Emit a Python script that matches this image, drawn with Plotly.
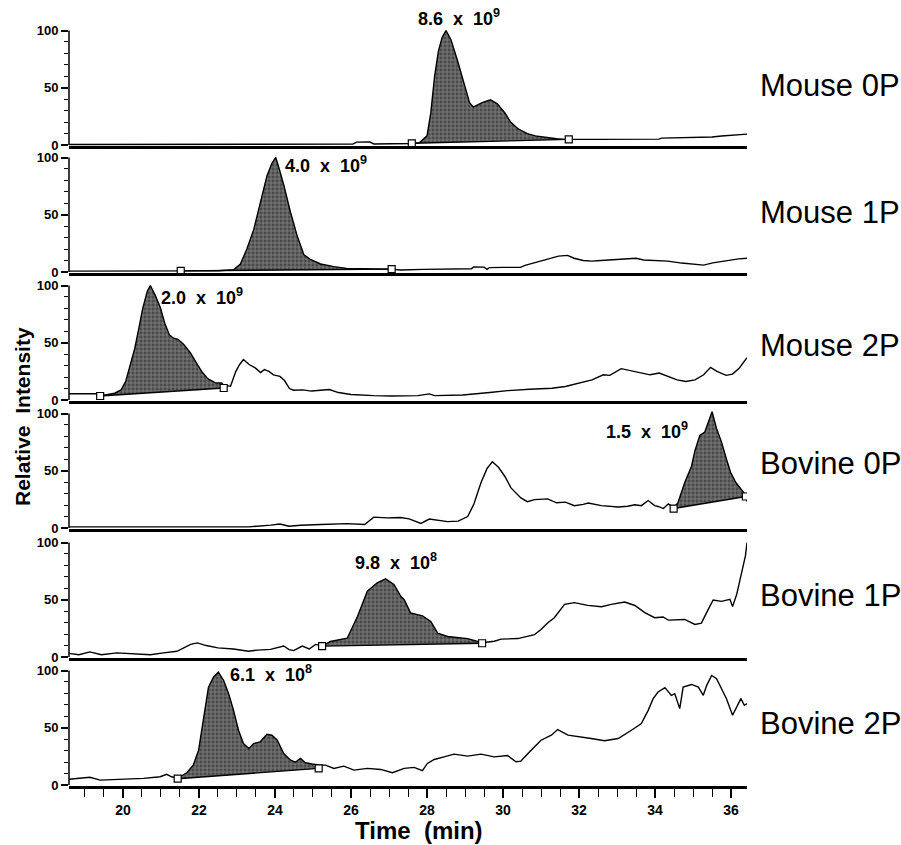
import plotly.graph_objects as go

# ---------------- data ----------------
panel_names = ["Mouse 0P", "Mouse 1P", "Mouse 2P", "Bovine 0P", "Bovine 1P", "Bovine 2P"]
peak_labels = ["8.6  x  10<sup>9</sup>", "4.0  x  10<sup>9</sup>", "2.0  x  10<sup>9</sup>",
               "1.5  x  10<sup>9</sup>", "9.8  x  10<sup>8</sup>", "6.1  x  10<sup>8</sup>"]
x_ticks = [20, 22, 24, 26, 28, 30, 32, 34, 36]
y_ticks = [0, 50, 100]

t_mouse0 = [18.58, 19.5, 20.5, 21.5, 22.5, 23.5, 24.5, 25.5, 26.05, 26.15, 26.3, 26.5, 26.6, 27.0, 27.4, 27.6,
            27.8, 28.0, 28.1, 28.2, 28.3, 28.4, 28.5, 28.63, 28.8, 29.0, 29.12, 29.22, 29.45, 29.67, 29.85,
            30.05, 30.2, 30.4, 30.64, 30.85, 31.2, 31.41, 31.64, 31.73, 31.88, 32.5, 33.2, 34.1, 34.17, 34.8,
            35.16, 35.5, 35.75, 35.99, 36.2, 36.42]
i_mouse0 = [0.5, 0.5, 0.6, 0.5, 0.6, 0.5, 0.6, 0.7, 0.8, 2.5, 2.8, 2.6, 0.9, 1.0, 1.2, 1.3,
            2.0, 8, 28, 60, 82, 94, 100, 92, 74, 50, 37, 33, 37, 39.5, 36,
            28, 20, 14, 10, 8, 6.3, 5.5, 4.9, 5.0, 4.9, 4.9, 5.0, 5.1, 6.0, 6.2,
            6.3, 7.0, 7.8, 8.4, 8.8, 9.5]

t_mouse1 = [18.58, 19.5, 20.5, 21.3, 21.52, 22.0, 22.5, 22.91, 23.09, 23.26, 23.44, 23.61, 23.79, 23.92, 24.02,
            24.13, 24.23, 24.41, 24.58, 24.76, 24.93, 25.2, 25.55, 25.89, 26.13, 26.6, 27.07, 27.3, 27.9,
            28.5, 29.17, 29.23, 29.5, 29.58, 29.64, 30.0, 30.46, 30.58, 30.81, 31.05, 31.28, 31.46, 31.7,
            31.87, 32.11, 32.34, 32.58, 32.93, 33.28, 33.5, 33.7, 33.99, 34.34, 34.7, 35.05, 35.28, 35.52,
            35.75, 35.99, 36.2, 36.42]
i_mouse1 = [0.8, 0.7, 0.8, 0.9, 1.0, 1.0, 1.1, 2.0, 7, 20, 37, 60, 84, 95, 100,
            88, 76, 52, 32, 15, 11, 7, 4.7, 3.2, 2.9, 2.6, 2.5, 1.8, 2.3,
            2.5, 2.9, 4.4, 4.3, 2.3, 3.8, 4.0, 4.0, 5.8, 7.9, 10.2, 12.5, 13.9, 14.5,
            12, 10, 9.5, 10, 10.8, 11.5, 12, 10.5, 10, 9.5, 7.8, 7, 6, 8,
            9.3, 10.8, 11.5, 12]

t_mouse2 = [18.58, 19.0, 19.3, 19.43, 19.54, 19.78, 19.95, 20.07, 20.2, 20.31, 20.42, 20.52, 20.64, 20.72,
            20.84, 20.98, 21.1, 21.22, 21.33, 21.45, 21.6, 21.78, 21.92, 22.07, 22.22, 22.43, 22.6, 22.65,
            22.83, 22.97, 23.07, 23.17, 23.32, 23.48, 23.62, 23.72, 23.84, 23.96, 24.13, 24.25, 24.38,
            24.49, 24.73, 24.96, 25.2, 25.43, 25.67, 26.0, 26.6, 27.06, 27.76, 28.06, 28.2, 28.94, 29.65,
            30.12, 30.7, 31.29, 31.64, 31.99, 32.34, 32.64, 32.81, 33.11, 33.34, 33.64, 33.87, 34.11,
            34.34, 34.58, 34.81, 35.05, 35.28, 35.46, 35.63, 35.87, 36.04, 36.22, 36.42]
i_mouse2 = [5.5, 5.5, 5.4, 4.5, 4.4, 5.9, 8.8, 16, 32, 45, 63, 80, 95, 100,
            92, 81, 67, 57, 54, 53, 48.5, 41, 33, 25, 19, 15, 14.8, 13,
            12, 25, 31, 35.3, 31, 28, 24, 26.5, 25, 22, 20.6, 17, 10,
            8.5, 8.8, 7.8, 8.5, 9.2, 6.5, 4.8, 3.8, 3.5, 3.8, 5.3, 3.8, 4.4, 6.5,
            8.2, 9.4, 10.3, 11.8, 14.7, 17.6, 22, 21.5, 27.4, 25.6, 23.5, 22, 23.5,
            20.6, 17.6, 16.2, 17.6, 22, 28.5, 25, 21.5, 22.6, 28, 37]

t_bovine0 = [18.58, 19.5, 20.5, 21.5, 22.5, 23.07, 23.3, 23.89, 24.13, 24.37, 24.67, 25.2, 25.9, 26.36,
             26.6, 26.95, 27.3, 27.53, 27.7, 27.84, 28.06, 28.23, 28.54, 28.82, 29.07, 29.23, 29.42,
             29.58, 29.72, 29.88, 30.05, 30.21, 30.47, 30.64, 30.83, 31.17, 31.41, 31.64, 31.88, 32.11,
             32.24, 32.59, 33.03, 33.28, 33.47, 33.64, 33.82, 33.99, 34.08, 34.22, 34.35, 34.49, 34.6,
             34.78, 34.96, 35.05, 35.18, 35.31, 35.4, 35.5, 35.62, 35.75, 35.88, 35.99, 36.13, 36.32,
             36.39, 36.42]
i_bovine0 = [1, 1, 1.2, 1, 1.2, 1.5, 1, 2.5, 3.5, 1.5, 2.4, 3, 3.8, 3,
             9.5, 8.8, 9.2, 8, 5.9, 4, 7.8, 6.8, 5.6, 6, 10, 20.6, 39.5,
             52, 57.8, 53, 45, 35, 26.3, 23, 24.8, 25.4, 22, 22.6, 19.5, 20.6,
             21.8, 19.5, 18.3, 19, 20.3, 19.5, 24, 19.5, 18.8, 17, 21, 18, 21.8,
             39.5, 54, 67.5, 80.8, 83.8, 92.6, 101.5, 86.7, 75, 60, 48.4, 39.5, 32,
             28.6, 23]

t_bovine1 = [18.58, 18.84, 19.13, 19.43, 19.84, 20.37, 20.72, 21.07, 21.42, 21.78, 21.96, 22.19, 22.5,
             22.91, 23.3, 23.54, 23.88, 24.23, 24.37, 24.49, 24.72, 24.9, 25.07, 25.24, 25.46, 25.9,
             26.17, 26.43, 26.69, 26.91, 27.13, 27.31, 27.4, 27.57, 27.88, 28.1, 28.28, 28.54, 28.63,
             29.07, 29.45, 29.77, 29.95, 30.39, 30.83, 31.0, 31.18, 31.35, 31.62, 31.88, 32.23, 32.59,
             32.85, 33.2, 33.47, 33.73, 33.99, 34.21, 34.35, 34.78, 35.05, 35.22, 35.4, 35.53, 35.75,
             35.97, 36.04, 36.15, 36.24, 36.32, 36.38, 36.42]
i_bovine1 = [3.2, 2, 4.5, 2, 3.6, 3, 2, 3.6, 5, 11, 12.3, 10, 8,
             7, 5, 6, 6.7, 9.6, 6.5, 5.6, 9.6, 7, 11, 9.5, 13.5, 16.4,
             35.4, 57.4, 64.8, 68.3, 63.3, 53, 50.1, 38.4, 36, 31, 20.8, 17.9, 17.5,
             16.1, 12.5, 13.8, 15.6, 16.1, 19.6, 24, 29.9, 34.3, 46, 47.5, 45.1, 43.9,
             46, 48, 45, 38.7, 34.3, 35, 32.2, 32.8, 28.4, 29.6, 41.6, 49.8, 48.6,
             50.4, 44, 54.8, 68, 79.7, 88.5, 100]

t_bovine2 = [18.58, 19.13, 19.4, 20.1, 20.54, 20.98, 21.15, 21.28, 21.44, 21.68, 21.85, 21.99, 22.12,
             22.25, 22.38, 22.51, 22.65, 22.78, 22.91, 23.04, 23.17, 23.31, 23.44, 23.61, 23.79, 23.92,
             24.06, 24.23, 24.41, 24.54, 24.67, 24.8, 24.98, 25.15, 25.33, 25.55, 25.81, 26.08, 26.43,
             26.78, 27.09, 27.4, 27.66, 27.88, 28.01, 28.19, 28.45, 28.71, 29.07, 29.42, 29.77, 30.12,
             30.34, 30.47, 30.74, 31.0, 31.27, 31.44, 31.71, 32.06, 32.32, 32.67, 33.03, 33.38, 33.64,
             33.82, 33.95, 34.08, 34.26, 34.43, 34.52, 34.65, 34.74, 34.96, 35.14, 35.27, 35.36, 35.49,
             35.62, 35.75, 35.88, 36.04, 36.15, 36.26, 36.35, 36.42]
i_bovine2 = [5, 6.7, 4.3, 5, 5.8, 7.2, 9.3, 7.2, 6, 10.7, 17.4, 30.4, 59.4,
             85.5, 94.2, 98.5, 91.3, 79.7, 65.2, 47.8, 36.2, 31.9, 36.2, 37.7, 44.3, 43.5,
             39.1, 27.5, 21.7, 20, 23.2, 19.4, 18.3, 17.5, 17.4, 14.5, 16.5, 13, 14.5,
             13.6, 10.7, 14.5, 15.4, 12.5, 18.8, 22.3, 24.6, 27, 25.2, 27, 24.6, 25.8,
             20.3, 20.9, 30.4, 39.1, 43.5, 48.4, 43.5, 42, 40.6, 38.6, 40.6, 47.8, 53.6,
             65.2, 75.4, 81.2, 85, 78.3, 79.7, 66.7, 85.5, 87.8, 85.5, 78.3, 87, 95.7,
             92.8, 84.1, 75.4, 60.9, 68.1, 75.4, 69.6, 71]

# integration windows (start / end time) and baseline intensities at those points
peak_start = [27.6, 21.52, 19.4, 34.49, 25.24, 21.44]
peak_end = [31.73, 27.07, 22.65, 36.39, 29.45, 25.15]
base_start = [1.5, 1.0, 3.5, 17.0, 9.5, 5.5]
base_end = [4.9, 2.5, 10.5, 27.5, 12.0, 14.5]

times = [t_mouse0, t_mouse1, t_mouse2, t_bovine0, t_bovine1, t_bovine2]
intens = [i_mouse0, i_mouse1, i_mouse2, i_bovine0, i_bovine1, i_bovine2]

# ---------------- layout geometry ----------------
W, H = 901, 845
ML, MR, MT, MB = 69, 154, 20, 55
plot_h = H - MT - MB
zero_px = [145, 272, 400, 528, 657, 785]
px_per_unit = 1.145
Y_LO, Y_HI = -1, 104
X_RANGE = [18.58, 36.42]

label_y = [52, 52, 48, 56, 54, 54]
# (time, intensity, vertical pixel shift) of each peak label's left/middle point
peak_label_pos = [(27.7, 103.5, 9), (24.22, 94, 0), (20.95, 90, 0), (32.66, 85, 0), (26.04, 83, 0),
                  (22.77, 97, 0)]

FONT = "Liberation Sans, Arial, sans-serif"

def to_paper(px):
    return (H - MB - px) / plot_h

fig = go.Figure()
layout = dict(
    width=W, height=H,
    margin=dict(l=ML, r=MR, t=MT, b=MB),
    paper_bgcolor="white", plot_bgcolor="white",
    showlegend=False,
    font=dict(family=FONT, color="black"),
)
annotations = []
shapes = []

for k in range(6):
    n = k + 1
    xa = "x" if n == 1 else f"x{n}"
    ya = "y" if n == 1 else f"y{n}"
    t = times[k]
    v = intens[k]
    ts, te, bs, be = peak_start[k], peak_end[k], base_start[k], base_end[k]
    # fill polygon built from the trace inside the integration window + baseline
    px_ = [ts] + [a for a in t if ts < a < te] + [te]
    py_ = [bs] + [b for a, b in zip(t, v) if ts < a < te] + [be]
    fig.add_trace(go.Scatter(x=px_, y=py_, xaxis=xa, yaxis=ya, mode="lines", fill="toself",
                             line=dict(width=0), fillcolor="#555555",
                             fillpattern=dict(shape="+", bgcolor="#4a4a4a", fgcolor="#d9d9d9",
                                              size=4, solidity=0.3),
                             hoverinfo="skip"))
    fig.add_trace(go.Scatter(x=t, y=v, xaxis=xa, yaxis=ya, mode="lines",
                             line=dict(color="black", width=1.4)))
    fig.add_trace(go.Scatter(x=[ts, te], y=[bs, be], xaxis=xa, yaxis=ya, mode="lines+markers",
                             line=dict(color="black", width=1.4),
                             marker=dict(symbol="square", size=7, color="white",
                                         line=dict(color="black", width=1.2))))

    d_bot = to_paper(zero_px[k] - Y_LO * px_per_unit)
    d_top = to_paper(zero_px[k] - Y_HI * px_per_unit)
    xkey = "xaxis" if n == 1 else f"xaxis{n}"
    ykey = "yaxis" if n == 1 else f"yaxis{n}"
    xdict = dict(domain=[0, 1], range=X_RANGE, anchor=ya, showgrid=False, zeroline=False,
                 showline=True, linecolor="black", linewidth=2.5, fixedrange=True)
    if n < 6:
        xdict.update(showticklabels=False, ticks="", matches="x6")
    else:
        xdict.update(tickvals=x_ticks, ticks="outside", ticklen=9, tickwidth=1.5, tickcolor="black",
                     tickfont=dict(family=FONT, size=14, weight="bold"),
                     minor=dict(dtick=0.5, tick0=0, ticks="outside", ticklen=8, tickwidth=1.2,
                                tickcolor="black"))
    layout[xkey] = xdict
    layout[ykey] = dict(domain=[d_bot, d_top], range=[Y_LO, Y_HI], anchor=xa, showgrid=False,
                        zeroline=False, showline=False, tickvals=y_ticks, ticks="outside",
                        ticklen=7, tickwidth=1.5, tickcolor="black",
                        tickfont=dict(family=FONT, size=13, weight="bold"),
                        minor=dict(tickvals=[10, 20, 30, 40, 60, 70, 80, 90], ticks="outside",
                                   ticklen=4, tickwidth=1.2, tickcolor="black"),
                        fixedrange=True)
    shapes.append(dict(type="line", xref=f"{xa} domain", yref=ya, x0=0, x1=0, y0=0, y1=100,
                       line=dict(color="black", width=1.5)))
    annotations.append(dict(text=panel_names[k], xref="paper", yref=ya, x=1.016, y=label_y[k],
                            xanchor="left", yanchor="middle", showarrow=False,
                            font=dict(family=FONT, size=31, color="black")))
    lx, ly, sh = peak_label_pos[k]
    annotations.append(dict(text=peak_labels[k], xref=xa, yref=ya, x=lx, y=ly, yshift=sh,
                            xanchor="left", yanchor="middle", showarrow=False,
                            font=dict(family=FONT, size=18, color="black", weight="bold")))

annotations.append(dict(text="Time  (min)", xref="paper", yref="paper", x=(419 - ML) / (W - ML - MR),
                        y=to_paper(830), xanchor="center", yanchor="middle", showarrow=False,
                        font=dict(family=FONT, size=24, weight="bold")))
annotations.append(dict(text="Relative  Intensity", xref="paper", yref="paper",
                        x=(22 - ML) / (W - ML - MR), y=to_paper(417), xanchor="center",
                        yanchor="middle", textangle=-90, showarrow=False,
                        font=dict(family=FONT, size=21, weight="bold")))

layout["annotations"] = annotations
layout["shapes"] = shapes
fig.update_layout(**layout)
fig.write_html("out.html")
